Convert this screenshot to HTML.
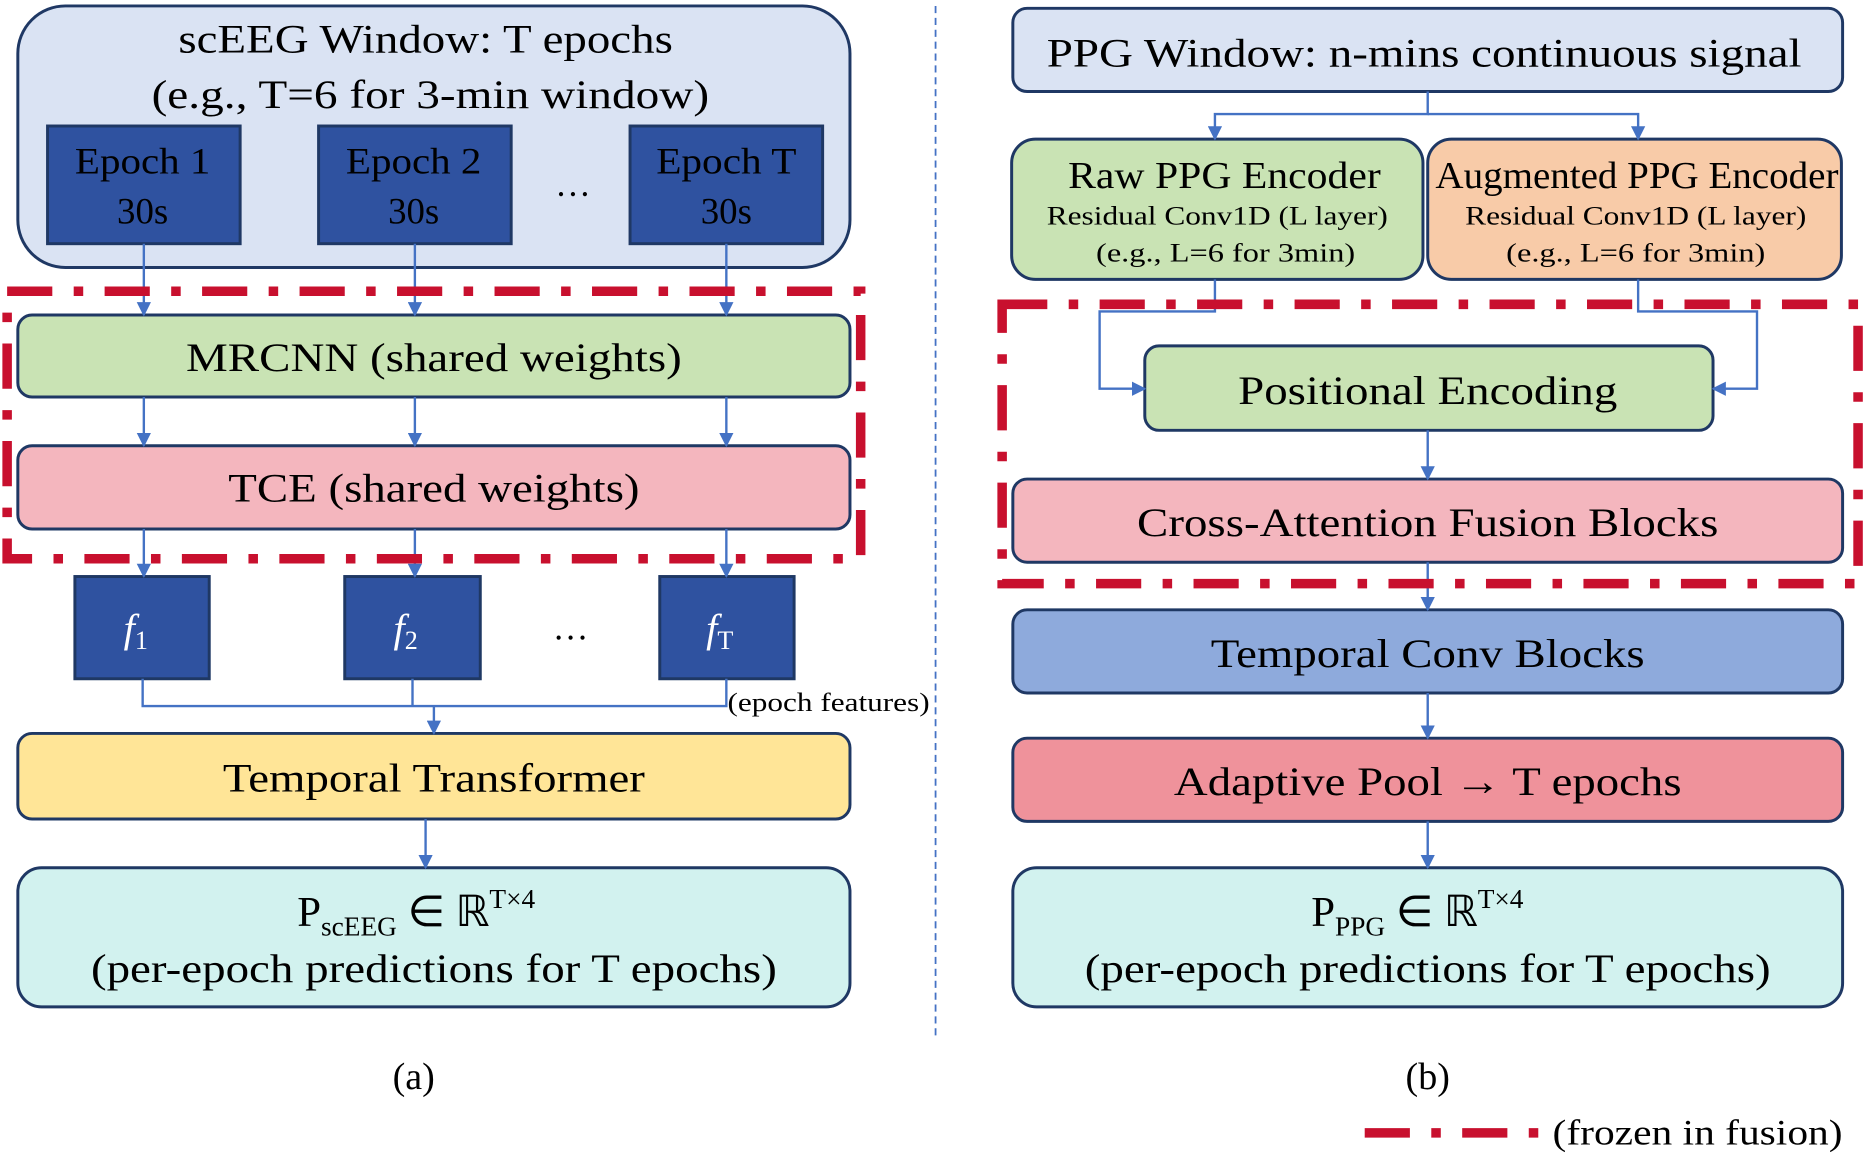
<!DOCTYPE html>
<html><head><meta charset="utf-8"><style>html,body{margin:0;padding:0;background:#fff}svg{display:block}text{font-family:"Liberation Serif",serif;fill:#000}</style></head>
<body>
<svg width="1864" height="1164" viewBox="0 0 1568 979.2" preserveAspectRatio="none" xmlns="http://www.w3.org/2000/svg">
<defs><marker id="a" viewBox="0 0 10 10" refX="9" refY="5" markerWidth="6" markerHeight="6" orient="auto"><path d="M0,0L10,5L0,10z" fill="#4472c4"/></marker></defs>
<g stroke="#1f3864" stroke-width="2.5">
<rect x="15" y="5" width="700" height="220" rx="40" fill="#dae3f3"/>
<rect x="40" y="106" width="162" height="99" fill="#2f52a0"/>
<rect x="268" y="106" width="162" height="99" fill="#2f52a0"/>
<rect x="530" y="106" width="162" height="99" fill="#2f52a0"/>
<rect x="15" y="265" width="700" height="69" rx="12" fill="#c9e3b4"/>
<rect x="15" y="375" width="700" height="70" rx="12" fill="#f4b6be"/>
<rect x="63" y="485" width="113" height="86" fill="#2f52a0"/>
<rect x="290" y="485" width="114" height="86" fill="#2f52a0"/>
<rect x="555" y="485" width="113" height="86" fill="#2f52a0"/>
<rect x="15" y="617" width="700" height="72" rx="12" fill="#ffe597"/>
<rect x="15" y="730" width="700" height="117" rx="20" fill="#d2f2ef"/>
<rect x="852" y="7" width="698" height="70" rx="12" fill="#dae3f3"/>
<rect x="851" y="117" width="346" height="118" rx="20" fill="#c9e3b4"/>
<rect x="1201" y="117" width="348" height="118" rx="20" fill="#f8cba8"/>
<rect x="963" y="291" width="478" height="71" rx="12" fill="#c9e3b4"/>
<rect x="852" y="403" width="698" height="70" rx="12" fill="#f4b6be"/>
<rect x="852" y="513" width="698" height="70" rx="12" fill="#8eaadc"/>
<rect x="852" y="621" width="698" height="70" rx="12" fill="#ef929b"/>
<rect x="852" y="730" width="698" height="117" rx="20" fill="#d2f2ef"/>
</g>
<g stroke="#4472c4" stroke-width="2" fill="none" marker-end="url(#a)">
<path d="M121 205V265"/><path d="M349 205V265"/><path d="M611 205V265"/>
<path d="M121 334V375"/><path d="M349 334V375"/><path d="M611 334V375"/>
<path d="M121 445V485"/><path d="M349 445V485"/><path d="M611 445V485"/>
<path d="M365 594V617"/><path d="M358 689V730"/>
<path d="M1201 77V96H1022V117"/><path d="M1201 96H1378V117"/>
<path d="M1022 235V262H925V327H963"/><path d="M1378 235V262H1478V327H1441"/>
<path d="M1201 362V403"/><path d="M1201 473V513"/><path d="M1201 583V621"/><path d="M1201 691V730"/>
</g>
<path d="M120 571V594H611V571M347 571V594" stroke="#4472c4" stroke-width="2" fill="none"/>
<g stroke="#c8102e" stroke-width="8" fill="none" stroke-dasharray="38 18 8 18">
<rect x="6" y="245" width="718" height="225"/>
<rect x="843" y="256" width="720" height="235"/>
<path d="M1148 953H1300"/>
</g>
<path d="M787 5V875" stroke="#4472c4" stroke-width="1.5" stroke-dasharray="6 4"/>
<g text-anchor="middle" font-size="34">
<text x="358" y="44" textLength="416" lengthAdjust="spacingAndGlyphs">scEEG Window: T epochs</text>
<text x="362" y="91" textLength="469" lengthAdjust="spacingAndGlyphs">(e.g., T=6 for 3-min window)</text>
<g font-size="31" style="fill:#fff">
<text x="120" y="146" fill="#fff" textLength="114" lengthAdjust="spacingAndGlyphs">Epoch 1</text>
<text x="120" y="188" fill="#fff">30s</text>
<text x="348" y="146" fill="#fff" textLength="114" lengthAdjust="spacingAndGlyphs">Epoch 2</text>
<text x="348" y="188" fill="#fff">30s</text>
<text x="611" y="146" fill="#fff" textLength="118" lengthAdjust="spacingAndGlyphs">Epoch T</text>
<text x="611" y="188" fill="#fff">30s</text>
</g>
<text x="482" y="165" font-size="30">…</text>
<text x="365" y="312" textLength="417" lengthAdjust="spacingAndGlyphs">MRCNN (shared weights)</text>
<text x="365" y="422" textLength="346" lengthAdjust="spacingAndGlyphs">TCE (shared weights)</text>
<text x="480" y="538" font-size="30">…</text>
<text x="365" y="666" textLength="355" lengthAdjust="spacingAndGlyphs">Temporal Transformer</text>
<text x="365" y="826" textLength="577" lengthAdjust="spacingAndGlyphs">(per-epoch predictions for T epochs)</text>
<text x="348" y="916" font-size="32">(a)</text>
<text x="1198" y="56" textLength="635" lengthAdjust="spacingAndGlyphs">PPG Window: n-mins continuous signal</text>
<text x="1030" y="158" font-size="32" textLength="263" lengthAdjust="spacingAndGlyphs">Raw PPG Encoder</text>
<text x="1377" y="158" font-size="32" textLength="339" lengthAdjust="spacingAndGlyphs">Augmented PPG Encoder</text>
<text x="1024" y="189" font-size="22" textLength="287" lengthAdjust="spacingAndGlyphs">Residual Conv1D (L layer)</text>
<text x="1031" y="220" font-size="22" textLength="218" lengthAdjust="spacingAndGlyphs">(e.g., L=6 for 3min)</text>
<text x="1376" y="189" font-size="22" textLength="287" lengthAdjust="spacingAndGlyphs">Residual Conv1D (L layer)</text>
<text x="1376" y="220" font-size="22" textLength="218" lengthAdjust="spacingAndGlyphs">(e.g., L=6 for 3min)</text>
<text x="1201" y="340" textLength="319" lengthAdjust="spacingAndGlyphs">Positional Encoding</text>
<text x="1201" y="451" textLength="489" lengthAdjust="spacingAndGlyphs">Cross-Attention Fusion Blocks</text>
<text x="1201" y="561" textLength="365" lengthAdjust="spacingAndGlyphs">Temporal Conv Blocks</text>
<text x="1201" y="669" textLength="427" lengthAdjust="spacingAndGlyphs">Adaptive Pool → T epochs</text>
<text x="1201" y="826" textLength="577" lengthAdjust="spacingAndGlyphs">(per-epoch predictions for T epochs)</text>
<text x="1201" y="916" font-size="32">(b)</text>
</g>
<g font-size="36">
<text x="250" y="779">P<tspan font-size="23" dy="8">scEEG</tspan><tspan dy="-8"> ∈ ℝ</tspan><tspan font-size="23" dy="-15">T×4</tspan></text>
<text x="1103" y="779">P<tspan font-size="23" dy="8">PPG</tspan><tspan dy="-8"> ∈ ℝ</tspan><tspan font-size="23" dy="-15">T×4</tspan></text>
<text x="104" y="540" style="fill:#fff" font-size="34" font-style="italic">f<tspan font-size="22" font-style="normal" dy="6">1</tspan></text>
<text x="331" y="540" style="fill:#fff" font-size="34" font-style="italic">f<tspan font-size="22" font-style="normal" dy="6">2</tspan></text>
<text x="594" y="540" style="fill:#fff" font-size="34" font-style="italic">f<tspan font-size="22" font-style="normal" dy="6">T</tspan></text>
<text x="612" y="598" font-size="22" textLength="170" lengthAdjust="spacingAndGlyphs">(epoch features)</text>
<text x="1306" y="963" font-size="30" textLength="244" lengthAdjust="spacingAndGlyphs">(frozen in fusion)</text>
</g>
</svg>
</body></html>
